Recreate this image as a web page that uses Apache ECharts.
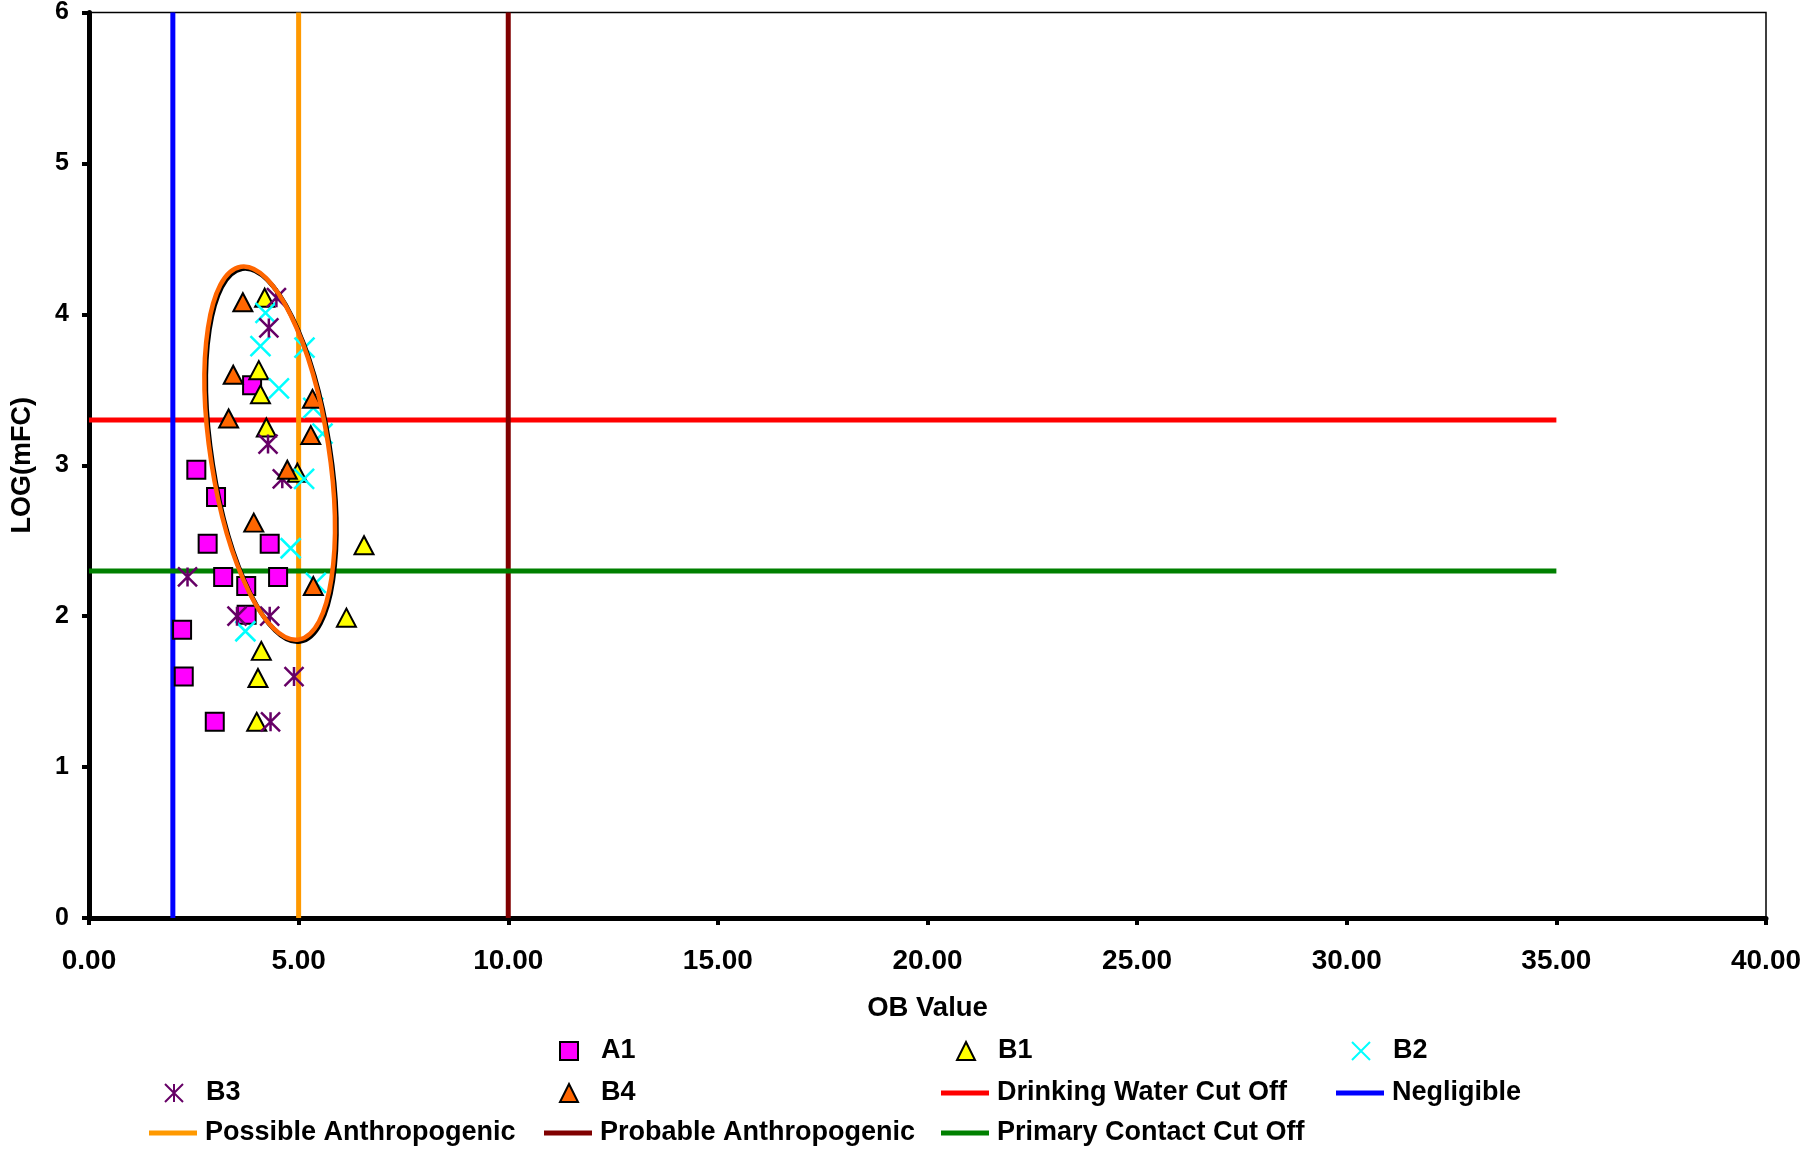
<!DOCTYPE html>
<html><head><meta charset="utf-8">
<script src="https://cdn.jsdelivr.net/npm/echarts@6/dist/echarts.min.js"></script>
<style>html,body{margin:0;padding:0;background:#fff}#c{width:1817px;height:1152px}</style>
</head><body><div id="c"></div>
<script>
// ---------- DATA ----------
const A1 = [[3.89,3.53],[2.56,2.97],[3.03,2.79],[2.83,2.48],[4.31,2.48],[3.20,2.26],[4.51,2.26],[3.75,2.20],[3.76,2.01],[2.22,1.91],[2.26,1.60],[3.00,1.30]];
const B1 = [[4.19,4.11],[4.05,3.63],[4.09,3.47],[4.23,3.25],[4.97,2.95],[6.56,2.47],[6.14,1.99],[4.11,1.77],[4.03,1.59],[4.00,1.30]];
const B2 = [[4.21,4.01],[4.09,3.79],[5.14,3.78],[4.53,3.51],[5.35,3.38],[5.57,3.21],[5.13,2.91],[4.81,2.45],[5.41,2.22],[3.73,1.90]];
const B3 = [[4.47,4.11],[4.29,3.91],[4.27,3.14],[4.61,2.91],[2.35,2.26],[3.53,2.00],[4.31,2.00],[4.89,1.60],[4.33,1.30]];
const B4 = [[3.67,4.08],[3.44,3.60],[5.33,3.44],[3.33,3.31],[5.29,3.20],[4.73,2.97],[3.93,2.62],[5.35,2.20]];

const negligibleX = 2, possibleX = 5, probableX = 10;
const drinkingY = 3.3, primaryY = 2.3;
const cutoffXEnd = 35;
const yMin = 0, yMax = 6, xMin = 0, xMax = 40;

// ellipse annotation (data units)
const ellipseCenter = [4.31, 3.08];
const ellipseRadii = [1.41, 1.25];
const ellipseTiltDeg = 8.8;

// ---------- STYLE ----------
const FONT = '"Liberation Sans", Arial, sans-serif';
const C = {A1:'#FF00FF', B1:'#FFFF00', B2:'#00FFFF', B3:'#660066', B4:'#FF6600',
  drinking:'#FF0000', negligible:'#0000FF', possible:'#FF9900', probable:'#800000', primary:'#008000'};
const XPATH = 'path://M0,0L10,10M10,0L0,10';
const STAR = 'path://M0,0L10,10M10,0L0,10M5,0L5,10';

function scatter(name, data, symbol, size, color, bw, stroke) {
  return {name, type:'scatter', data, symbol, symbolSize:size, z:3,
    itemStyle:{color: color, borderColor: stroke, borderWidth: bw, opacity:1}};
}
function vline(name, x, color) {
  return {name, type:'line', data:[[x,yMin],[x,yMax]], showSymbol:false, symbol:'none', z:1,
    color, lineStyle:{color, width:5}, itemStyle:{color}};
}
function hline(name, y, color) {
  return {name, type:'line', data:[[xMin,y],[cutoffXEnd,y]], showSymbol:false, symbol:'none', z:1,
    color, lineStyle:{color, width:5}, itemStyle:{color}};
}

const series = [
  scatter('A1', A1, 'rect', 18, C.A1, 2, '#000'),
  scatter('B1', B1, 'triangle', [19,18], C.B1, 2, '#000'),
  scatter('B2', B2, XPATH, 20, C.B2, 2.5, C.B2),
  scatter('B3', B3, STAR, 19, C.B3, 2.5, C.B3),
  scatter('B4', B4, 'triangle', [19,18], C.B4, 2, '#000'),
  hline('Drinking Water Cut Off', drinkingY, C.drinking),
  vline('Negligible', negligibleX, C.negligible),
  vline('Possible Anthropogenic', possibleX, C.possible),
  vline('Probable Anthropogenic', probableX, C.probable),
  hline('Primary Contact Cut Off', primaryY, C.primary)
];

// legend layout
const legendItems = [
  {name:'A1', col:1, row:0, kind:'m'}, {name:'B1', col:2, row:0, kind:'m'}, {name:'B2', col:3, row:0, kind:'m'},
  {name:'B3', col:0, row:1, kind:'m'}, {name:'B4', col:1, row:1, kind:'m'},
  {name:'Drinking Water Cut Off', col:2, row:1, kind:'l'}, {name:'Negligible', col:3, row:1, kind:'l'},
  {name:'Possible Anthropogenic', col:0, row:2, kind:'l'}, {name:'Probable Anthropogenic', col:1, row:2, kind:'l'},
  {name:'Primary Contact Cut Off', col:2, row:2, kind:'l'}
];
const colX = [205, 600, 997, 1392];
const rowY = [1051, 1093, 1133];

const legends = legendItems.map(it => {
  const tx = colX[it.col], ty = rowY[it.row];
  const isM = it.kind === 'm';
  return {
    data:[isM ? {name: it.name} : {name: it.name, icon:'rect'}],
    left: isM ? tx - 41 : tx - 56,
    top: ty - 15,
    padding: 0,
    itemWidth: isM ? 18 : 48,
    itemHeight: isM ? 18 : 5,
    selectedMode: false,
    textStyle:{fontFamily:FONT, fontWeight:'bold', fontSize:27, color:'#000', lineHeight:30,
      padding:[0,0,0, isM ? 18 : 3]}
  };
});

const chart = echarts.init(document.getElementById('c'), null, {renderer:'canvas'});
chart.setOption({
  animation:false,
  backgroundColor:'#fff',
  grid:{left:89, right:51, top:9, bottom:234, show:true, borderColor:'#000', borderWidth:1.5, backgroundColor:'transparent'},
  xAxis:{type:'value', min:xMin, max:xMax, interval:5,
    name:'OB Value', nameLocation:'middle', nameGap:76,
    nameTextStyle:{fontFamily:FONT, fontWeight:'bold', fontSize:27.5, color:'#000'},
    axisLine:{show:true, onZero:false, lineStyle:{color:'#000', width:5}},
    axisTick:{show:true, inside:false, length:7, lineStyle:{color:'#000', width:4}},
    axisLabel:{formatter: v => v.toFixed(2), fontFamily:FONT, fontWeight:'bold', fontSize:28, color:'#000', margin:29},
    splitLine:{show:false}},
  yAxis:{type:'value', min:yMin, max:yMax, interval:1,
    name:'LOG(mFC)', nameLocation:'middle', nameGap:53,
    nameTextStyle:{fontFamily:FONT, fontWeight:'bold', fontSize:27, color:'#000'},
    axisLine:{show:true, onZero:false, lineStyle:{color:'#000', width:5}},
    axisTick:{show:true, inside:false, length:7, lineStyle:{color:'#000', width:4}},
    axisLabel:{fontFamily:FONT, fontWeight:'bold', fontSize:25, color:'#000', margin:20},
    splitLine:{show:false}},
  legend: legends,
  series
});

// ellipse annotation via pixel conversion
const cPx = chart.convertToPixel({gridIndex:0}, ellipseCenter);
const rxPt = chart.convertToPixel({gridIndex:0}, [ellipseCenter[0] + ellipseRadii[0], ellipseCenter[1]]);
const ryPt = chart.convertToPixel({gridIndex:0}, [ellipseCenter[0], ellipseCenter[1] + ellipseRadii[1]]);
const rx = Math.abs(rxPt[0] - cPx[0]), ry = Math.abs(cPx[1] - ryPt[1]);
const rot = ellipseTiltDeg * Math.PI / 180;
chart.setOption({
  graphic:[
    {type:'ellipse', x:cPx[0] + 1.5, y:cPx[1] + 2, rotation:rot, z:100, silent:true,
      shape:{cx:0, cy:0, rx, ry}, style:{fill:'none', stroke:'#000', lineWidth:4.5}},
    {type:'ellipse', x:cPx[0], y:cPx[1], rotation:rot, z:101, silent:true,
      shape:{cx:0, cy:0, rx, ry}, style:{fill:'none', stroke:'#FF6600', lineWidth:4.5}}
  ]
});
</script>
</body></html>
